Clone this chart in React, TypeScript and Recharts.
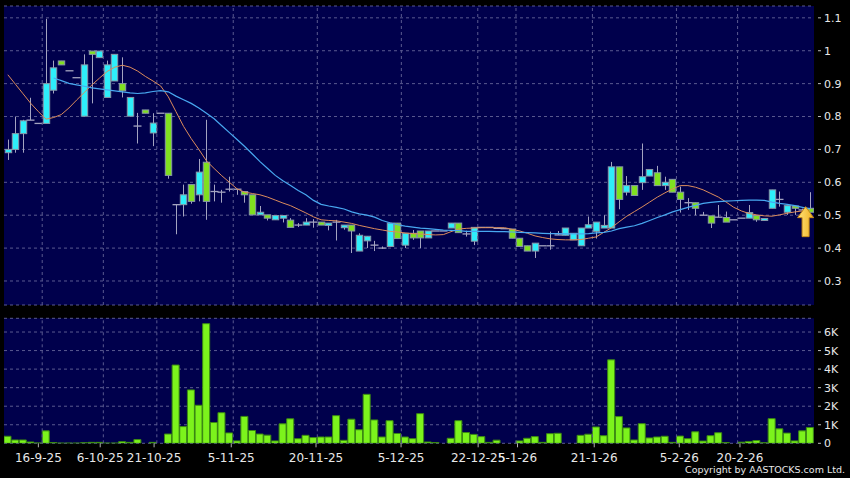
import React from "react";
import {
  ComposedChart,
  Bar,
  Line,
  XAxis,
  YAxis,
  CartesianGrid,
  ReferenceDot,
  ReferenceLine,
} from "recharts";

// x axis labels and where they sit (bar index units)
const tickLabels = ["16-9-25", "6-10-25", "21-10-25", "5-11-25", "20-11-25", "5-12-25", "22-12-25", "5-1-26", "21-1-26", "5-2-26", "20-2-26"];
const labelTicks = [5.0, 13.09, 20.14, 30.24, 41.33, 52.46, 62.55, 67.7, 77.74, 88.87, 96.81];
const gridTicks = [5.5, 13.5, 20.5, 30.5, 41.5, 52.5, 62.5, 67.5, 77.5, 88.5, 96.5];
const priceTicks = [0.3, 0.4, 0.5, 0.6, 0.7, 0.8, 0.9, 1.0, 1.1];
const volumeTicks = [0, 1, 2, 3, 4, 5, 6];

const open = [
  0.690, 0.700, 0.748, 0.789, 0.779, 0.779, 0.880, 0.969, 0.939, 0.918,
  0.801, 0.999, 0.979, 0.858, 0.908, 0.900, 0.801, 0.771, 0.820, 0.750,
  0.810, 0.810, 0.532, 0.532, 0.593, 0.562, 0.661, 0.572, 0.570, 0.579,
  0.579, 0.572, 0.562, 0.501, 0.501, 0.486, 0.491, 0.485, 0.470, 0.470,
  0.479, 0.479, 0.469, 0.479, 0.462, 0.470, 0.391, 0.422, 0.409, 0.400,
  0.405, 0.476, 0.409, 0.445, 0.452, 0.431, 0.452, 0.452, 0.461, 0.476,
  0.443, 0.421, 0.463, 0.463, 0.460, 0.459, 0.458, 0.430, 0.407, 0.391,
  0.407, 0.407, 0.440, 0.439, 0.425, 0.407, 0.461, 0.451, 0.461, 0.461,
  0.647, 0.570, 0.590, 0.599, 0.619, 0.629, 0.590, 0.609, 0.570, 0.538,
  0.538, 0.500, 0.498, 0.494, 0.493, 0.486, 0.491, 0.491, 0.499, 0.484,
  0.521, 0.548, 0.509, 0.528, 0.516, 0.521,
];
const high = [
  0.730, 0.800, 0.790, 0.857, 0.779, 1.097, 0.970, 0.969, 0.939, 0.918,
  0.989, 0.999, 0.999, 0.970, 0.989, 0.980, 0.858, 0.811, 0.820, 0.810,
  0.810, 0.810, 0.532, 0.593, 0.593, 0.671, 0.790, 0.593, 0.577, 0.617,
  0.579, 0.572, 0.562, 0.528, 0.501, 0.499, 0.499, 0.491, 0.476, 0.491,
  0.488, 0.479, 0.476, 0.486, 0.470, 0.470, 0.445, 0.436, 0.422, 0.405,
  0.476, 0.476, 0.445, 0.455, 0.452, 0.452, 0.452, 0.452, 0.476, 0.476,
  0.453, 0.463, 0.463, 0.463, 0.460, 0.459, 0.458, 0.430, 0.407, 0.415,
  0.407, 0.450, 0.452, 0.461, 0.445, 0.461, 0.496, 0.479, 0.500, 0.662,
  0.647, 0.619, 0.590, 0.718, 0.639, 0.650, 0.617, 0.609, 0.587, 0.552,
  0.538, 0.510, 0.498, 0.531, 0.511, 0.486, 0.491, 0.531, 0.499, 0.490,
  0.577, 0.572, 0.529, 0.528, 0.520, 0.570,
];
const low = [
  0.668, 0.690, 0.690, 0.789, 0.779, 0.779, 0.870, 0.957, 0.939, 0.918,
  0.801, 0.840, 0.979, 0.858, 0.908, 0.858, 0.801, 0.718, 0.810, 0.710,
  0.810, 0.611, 0.442, 0.496, 0.535, 0.542, 0.486, 0.542, 0.538, 0.572,
  0.562, 0.538, 0.501, 0.501, 0.484, 0.486, 0.478, 0.463, 0.464, 0.470,
  0.462, 0.470, 0.454, 0.423, 0.456, 0.385, 0.391, 0.400, 0.391, 0.398,
  0.405, 0.429, 0.400, 0.425, 0.400, 0.431, 0.452, 0.452, 0.461, 0.447,
  0.435, 0.409, 0.463, 0.463, 0.460, 0.459, 0.430, 0.405, 0.391, 0.370,
  0.407, 0.395, 0.440, 0.439, 0.425, 0.407, 0.461, 0.429, 0.461, 0.461,
  0.518, 0.560, 0.560, 0.577, 0.619, 0.590, 0.577, 0.570, 0.508, 0.516,
  0.500, 0.500, 0.461, 0.494, 0.493, 0.486, 0.491, 0.491, 0.480, 0.484,
  0.521, 0.526, 0.501, 0.501, 0.516, 0.509,
];
const close = [
  0.700, 0.748, 0.787, 0.789, 0.779, 0.900, 0.948, 0.957, 0.939, 0.918,
  0.957, 0.989, 0.999, 0.957, 0.989, 0.878, 0.858, 0.771, 0.810, 0.780,
  0.810, 0.621, 0.532, 0.562, 0.542, 0.631, 0.542, 0.572, 0.570, 0.579,
  0.579, 0.562, 0.501, 0.509, 0.491, 0.499, 0.499, 0.463, 0.470, 0.479,
  0.479, 0.470, 0.476, 0.479, 0.470, 0.452, 0.439, 0.436, 0.409, 0.400,
  0.476, 0.429, 0.445, 0.431, 0.431, 0.452, 0.452, 0.452, 0.476, 0.447,
  0.443, 0.463, 0.463, 0.463, 0.460, 0.459, 0.430, 0.405, 0.391, 0.415,
  0.407, 0.407, 0.440, 0.461, 0.445, 0.461, 0.471, 0.479, 0.469, 0.647,
  0.548, 0.590, 0.560, 0.617, 0.639, 0.590, 0.600, 0.570, 0.548, 0.538,
  0.521, 0.500, 0.476, 0.494, 0.479, 0.486, 0.491, 0.508, 0.486, 0.490,
  0.577, 0.548, 0.529, 0.521, 0.516, 0.509,
];
// volume in thousands of shares
const volume = [
  0.38, 0.18, 0.18, 0.07, 0.02, 0.67, 0.04, 0.01, 0.01, 0.01,
  0.03, 0.05, 0.05, 0.01, 0.01, 0.09, 0.05, 0.20, 0, 0.05,
  0, 0.50, 4.22, 0.90, 2.88, 2.05, 6.45, 1.12, 1.65, 0.56,
  0.13, 1.45, 0.69, 0.50, 0.44, 0.13, 1.05, 1.32, 0.25, 0.43,
  0.31, 0.34, 0.34, 1.49, 0.16, 1.30, 0.73, 2.64, 1.26, 0.34,
  1.22, 0.53, 0.34, 0.25, 1.60, 0.07, 0.04, 0, 0.27, 1.22,
  0.58, 0.48, 0.36, 0.05, 0.17, 0, 0, 0.13, 0.27, 0.36,
  0.05, 0.52, 0.54, 0, 0, 0.43, 0.49, 0.88, 0.41, 4.50,
  1.44, 0.83, 0.18, 1.06, 0.29, 0.34, 0.38, 0.05, 0.39, 0.25,
  0.62, 0.12, 0.41, 0.57, 0.04, 0, 0.06, 0.10, 0.15, 0.03,
  1.33, 0.78, 0.55, 0.13, 0.67, 0.85,
];
const ma10 = [
  0.927, 0.898, 0.869, 0.840, 0.815, 0.792, 0.797, 0.806, 0.826, 0.850,
  0.873, 0.896, 0.917, 0.937, 0.950, 0.956, 0.950, 0.938, 0.922, 0.908,
  0.893, 0.860, 0.815, 0.770, 0.733, 0.700, 0.665, 0.642, 0.620, 0.600,
  0.580, 0.570, 0.566, 0.562, 0.555, 0.546, 0.537, 0.529, 0.518, 0.507,
  0.495, 0.486, 0.484, 0.483, 0.479, 0.475, 0.469, 0.464, 0.459, 0.455,
  0.451, 0.449, 0.446, 0.444, 0.443, 0.441, 0.440, 0.441, 0.450, 0.458,
  0.460, 0.461, 0.462, 0.462, 0.462, 0.462, 0.457, 0.452, 0.445, 0.437,
  0.432, 0.428, 0.426, 0.425, 0.425, 0.426, 0.430, 0.434, 0.448, 0.462,
  0.480, 0.497, 0.511, 0.525, 0.540, 0.555, 0.568, 0.580, 0.590, 0.590,
  0.585, 0.577, 0.566, 0.555, 0.540, 0.524, 0.513, 0.505, 0.501, 0.498,
  0.497, 0.501, 0.506, 0.510, 0.513, 0.516,
];
const ma20 = [
  null, null, null, null, null, null, 0.917, 0.909, 0.901, 0.896,
  0.892, 0.887, 0.884, 0.881, 0.878, 0.875, 0.872, 0.870, 0.872, 0.876,
  0.879, 0.875, 0.862, 0.851, 0.840, 0.826, 0.810, 0.793, 0.772, 0.751,
  0.730, 0.709, 0.686, 0.663, 0.642, 0.621, 0.605, 0.590, 0.575, 0.562,
  0.545, 0.533, 0.528, 0.524, 0.519, 0.510, 0.504, 0.500, 0.494, 0.484,
  0.477, 0.471, 0.467, 0.464, 0.461, 0.459, 0.457, 0.455, 0.454, 0.453,
  0.451, 0.451, 0.451, 0.451, 0.450, 0.450, 0.449, 0.448, 0.447, 0.446,
  0.445, 0.444, 0.444, 0.443, 0.443, 0.443, 0.444, 0.446, 0.448, 0.452,
  0.459, 0.464, 0.468, 0.475, 0.484, 0.493, 0.501, 0.510, 0.517, 0.524,
  0.530, 0.536, 0.539, 0.541, 0.543, 0.544, 0.545, 0.546, 0.546, 0.545,
  0.540, 0.536, 0.533, 0.529, 0.524, 0.519,
];

const BG = "#00004c";
const GRID = "#5a5a90";
const UP = "#2eeefa";
const DOWN = "#80e020";
const EDGE = "#8898a8";
const WICK = "#a4a4c0";
const VOL = "#7cf31c";
const VOL_EDGE = "#3b8a12";
const TEXT = "#e8e8e8";
const FONT = "DejaVu Sans";

const rows = open.map((o, k) => ({
  i: k + 1,
  open: o,
  high: high[k],
  low: low[k],
  close: close[k],
  range: [low[k], high[k]],
  ma10: ma10[k],
  ma20: ma20[k],
  vol: volume[k],
}));

function Candle(props: any) {
  const { x, y, width, height, payload } = props;
  if (!payload) return null;
  const { open: o, close: c, high: h, low: l } = payload;
  const top = Math.min(y, y + height);
  const span = Math.abs(height);
  const py = (v: number) => (h > l ? top + ((h - v) / (h - l)) * span : top);
  const cx = Math.round(x + width / 2) + 0.5;
  const yo = py(o);
  const yc = py(c);
  const wick = h > l ? <line x1={cx} x2={cx} y1={py(h)} y2={py(l)} stroke={WICK} strokeWidth={1} /> : null;
  if (o === c) {
    return (
      <g>
        {wick}
        <line x1={cx - 4} x2={cx + 4} y1={yo} y2={yo} stroke={WICK} strokeWidth={1.3} />
      </g>
    );
  }
  const bw = 6.4;
  return (
    <g>
      {wick}
      <rect
        x={cx - bw / 2}
        y={Math.min(yo, yc)}
        width={bw}
        height={Math.max(Math.abs(yc - yo), 1)}
        fill={c > o ? UP : DOWN}
        stroke={EDGE}
        strokeWidth={1}
      />
    </g>
  );
}

function SideTick(props: any) {
  const { x, y, payload, fmt } = props;
  return (
    <g>
      <line x1={x + 4} x2={x + 7} y1={y} y2={y} stroke="#bdbdbd" />
      <text x={x + 10} y={y} dy="0.36em" fill={TEXT} fontSize={11} fontFamily={FONT}>
        {fmt(payload.value)}
      </text>
    </g>
  );
}

function Arrow(props: any) {
  const { cx, cy } = props;
  const pts = [
    [cx, cy],
    [cx + 8, cy + 11],
    [cx + 3.5, cy + 11],
    [cx + 3.5, cy + 30],
    [cx - 3.5, cy + 30],
    [cx - 3.5, cy + 11],
    [cx - 8, cy + 11],
  ]
    .map((p) => p.join(","))
    .join(" ");
  return (
    <g>
      <defs>
        <linearGradient id="arrowFill" x1="0" y1="0" x2="1" y2="0">
          <stop offset="0" stopColor="#ffe27a" />
          <stop offset="1" stopColor="#f0b020" />
        </linearGradient>
      </defs>
      <polygon points={pts} fill="url(#arrowFill)" stroke="#c88a18" strokeWidth={1} />
    </g>
  );
}

const priceFmt = (v: number) => String(Number(v.toFixed(1)));
const volFmt = (v: number) => (v === 0 ? "0" : `${v}K`);

export default function App() {
  return (
    <div style={{ position: "absolute", left: 0, top: 0, width: 850, height: 478, background: "#000", overflow: "hidden" }}>
      <div style={{ position: "absolute", left: 0, top: 0 }}>
        <ComposedChart width={850} height={310} data={rows} margin={{ top: 6, right: 0, bottom: 5, left: 4 }}>
          <CartesianGrid fill={BG} stroke={GRID} strokeDasharray="3 3" vertical={false} />
          <XAxis
            type="number"
            dataKey="i"
            domain={[0.5, 106.5]}
            ticks={gridTicks}
            height={0}
            tick={false}
            tickLine={false}
            axisLine={false}
            allowDataOverflow
          />
          <YAxis
            orientation="right"
            width={36}
            type="number"
            domain={[0.227, 1.136]}
            ticks={priceTicks}
            allowDataOverflow
            axisLine={false}
            tickLine={false}
            tickSize={0}
            tickMargin={0}
            interval={0}
            tick={(p: any) => <SideTick {...p} fmt={priceFmt} />}
          />
          {gridTicks.map((v) => (
            <ReferenceLine key={v} x={v} stroke={GRID} strokeDasharray="3 3" />
          ))}
          <Bar dataKey="range" barSize={7} shape={Candle} isAnimationActive={false} />
          <Line type="linear" dataKey="ma10" stroke="#dc8c5c" strokeWidth={1} dot={false} activeDot={false} isAnimationActive={false} />
          <Line type="linear" dataKey="ma20" stroke="#48a8f0" strokeWidth={1.2} dot={false} activeDot={false} isAnimationActive={false} />
          <ReferenceDot x={105.4} y={0.526} shape={Arrow} />
        </ComposedChart>
      </div>
      <div style={{ position: "absolute", left: 0, top: 310 }}>
        <ComposedChart width={850} height={168} data={rows} margin={{ top: 8.3, right: 0, bottom: 0, left: 4 }}>
          <CartesianGrid fill={BG} stroke={GRID} strokeDasharray="3 3" vertical={false} />
          <XAxis
            type="number"
            dataKey="i"
            domain={[0.5, 106.5]}
            ticks={labelTicks}
            interval={0}
            height={34.7}
            axisLine={false}
            tickLine={{ stroke: "#b0b0b0" }}
            tickSize={4}
            tickMargin={6}
            tick={{ fill: TEXT, fontSize: 12, fontFamily: FONT }}
            tickFormatter={(v: number) => tickLabels[labelTicks.indexOf(v)]}
            allowDataOverflow
          />
          <YAxis
            orientation="right"
            width={36}
            type="number"
            domain={[0, 6.74]}
            ticks={volumeTicks}
            allowDataOverflow
            axisLine={false}
            tickLine={false}
            tickSize={0}
            tickMargin={0}
            interval={0}
            tick={(p: any) => <SideTick {...p} fmt={volFmt} />}
          />
          {gridTicks.map((v) => (
            <ReferenceLine key={v} x={v} stroke={GRID} strokeDasharray="3 3" />
          ))}
          <Bar dataKey="vol" barSize={7} fill={VOL} stroke={VOL_EDGE} strokeWidth={1} isAnimationActive={false} />
        </ComposedChart>
      </div>
      <div
        style={{
          position: "absolute",
          right: 5,
          top: 464,
          fontSize: 9.5,
          lineHeight: "12px",
          fontFamily: FONT,
          color: TEXT,
          whiteSpace: "nowrap",
        }}
      >
        Copyright by AASTOCKS.com Ltd.
      </div>
    </div>
  );
}
